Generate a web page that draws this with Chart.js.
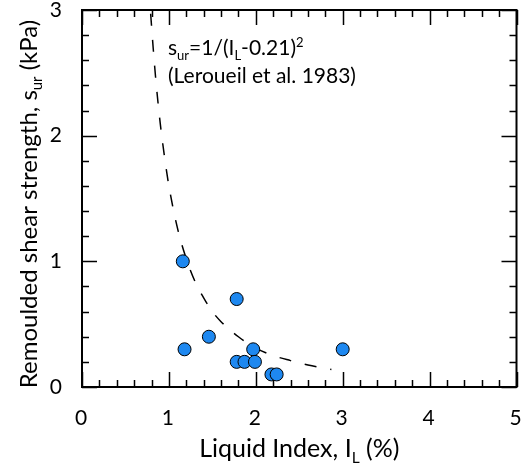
<!DOCTYPE html>
<html>
<head>
<meta charset="utf-8">
<script src="https://cdn.jsdelivr.net/npm/chart.js@4.4.0/dist/chart.umd.min.js"></script>
<style>
  html, body { margin: 0; padding: 0; background: #fff; }
</style>
</head>
<body>
<canvas id="myChart" width="524" height="467"></canvas>
<script>
// data
var liquidIndex = [1.16, 1.18, 1.46, 1.78, 1.78, 1.87, 1.97, 1.99, 2.18, 2.24, 3.0];
var strength    = [1.0, 0.3, 0.4, 0.7, 0.2, 0.2, 0.3, 0.2, 0.1, 0.1, 0.3];

// dashed Leroueil et al. (1983) curve
var curveX = [0.79, 0.82, 0.85, 0.9, 0.95, 1.0, 1.1, 1.2, 1.3, 1.4, 1.5, 1.6, 1.8, 2.0, 2.2, 2.4, 2.6, 2.87];
var curveY = [2.97, 2.69, 2.44, 2.10, 1.83, 1.60, 1.26, 1.02, 0.84, 0.71, 0.60, 0.52, 0.40, 0.31, 0.25, 0.21, 0.175, 0.14];

var xTicks = [0, 1, 2, 3, 4, 5];
var yTicks = [0, 1, 2, 3];

var FONT = "Lato, 'Open Sans', sans-serif";

function toPoints(xs, ys) {
    return xs.map(function (x, i) { return {x: x, y: ys[i]}; });
}

// draw a line of text with sub/superscript pieces
function richText(ctx, parts, x, y, size, align) {
    var w = 0;
    parts.forEach(function (p) {
        var s = p.sub || p.sup ? size * 0.62 : size;
        ctx.font = s + "px " + FONT;
        p.w = ctx.measureText(p.t).width;
        p.s = s;
        w += p.w;
    });
    var cx = align === "center" ? x - w / 2 : x;
    ctx.textAlign = "left";
    ctx.textBaseline = "alphabetic";
    parts.forEach(function (p) {
        ctx.font = p.s + "px " + FONT;
        var dy = p.sub ? size * 0.22 : (p.sup ? -size * 0.38 : 0);
        ctx.fillText(p.t, cx, y + dy);
        cx += p.w;
    });
}

var frame = {
    id: "frame",
    afterDraw: function (chart) {
        var ctx = chart.ctx, a = chart.chartArea;
        var xs = chart.scales.x, ys = chart.scales.y;
        ctx.save();
        ctx.strokeStyle = "#000";
        ctx.fillStyle = "#000";

        // minor and major ticks on all four sides, pointing inward
        ctx.lineWidth = 1.5;
        ctx.beginPath();
        for (var i = 0; i <= 25; i++) {
            var v = i * 0.2;
            var px = Math.round(xs.getPixelForValue(v)) + 0.5;
            var len = i % 5 === 0 ? 15 : 7;
            ctx.moveTo(px, a.bottom); ctx.lineTo(px, a.bottom - len);
            ctx.moveTo(px, a.top); ctx.lineTo(px, a.top + len);
        }
        for (var j = 0; j <= 15; j++) {
            var u = j * 0.2;
            var py = Math.round(ys.getPixelForValue(u)) + 0.5;
            var l2 = j % 5 === 0 ? 15 : 7;
            ctx.moveTo(a.left, py); ctx.lineTo(a.left + l2, py);
            ctx.moveTo(a.right, py); ctx.lineTo(a.right - l2, py);
        }
        ctx.stroke();

        ctx.lineWidth = 2;
        ctx.strokeRect(a.left, a.top, a.right - a.left, a.bottom - a.top);

        // tick labels
        ctx.font = "21px " + FONT;
        ctx.textAlign = "center";
        ctx.textBaseline = "alphabetic";
        xTicks.forEach(function (v) {
            ctx.fillText(String(v), xs.getPixelForValue(v) - 1, 425);
        });
        ctx.textAlign = "right";
        ctx.textBaseline = "middle";
        yTicks.forEach(function (v) {
            ctx.fillText(String(v), 62, ys.getPixelForValue(v));
        });

        // axis titles
        richText(ctx, [{t: "Liquid Index, I"}, {t: "L", sub: true}, {t: " (%)"}],
            (a.left + a.right) / 2, 457, 25, "center");
        ctx.save();
        ctx.translate(37, 204);
        ctx.rotate(-Math.PI / 2);
        richText(ctx, [{t: "Remoulded shear strength, s"}, {t: "ur", sub: true}, {t: " (kPa)"}],
            0, 0, 24, "center");
        ctx.restore();

        // equation note
        richText(ctx, [{t: "s"}, {t: "ur", sub: true}, {t: "=1/(I"}, {t: "L", sub: true},
            {t: "-0.21)"}, {t: "2", sup: true}], 168, 55, 21, "left");
        richText(ctx, [{t: "(Leroueil et al. 1983)"}], 168, 83, 21, "left");
        ctx.restore();
    }
};

new Chart("myChart", {
    type: "scatter",
    data: {
        datasets: [{
            data: toPoints(liquidIndex, strength),
            backgroundColor: "#1e88f0",
            borderColor: "#000",
            borderWidth: 1,
            pointRadius: 6.5
        }, {
            data: toPoints(curveX, curveY),
            showLine: true,
            borderColor: "#000",
            borderWidth: 1.5,
            borderDash: [12, 14],
            pointRadius: 0,
            tension: 0.4,
            cubicInterpolationMode: "monotone"
        }]
    },
    options: {
        responsive: false,
        animation: false,
        devicePixelRatio: 1,
        layout: {padding: {left: 0, top: 10, right: 3, bottom: 0}},
        plugins: {legend: {display: false}, tooltip: {enabled: false}},
        scales: {
            x: {
                min: 0, max: 5,
                afterBuildTicks: function (s) { s.ticks = xTicks.map(function (v) { return {value: v}; }); },
                afterFit: function (s) { s.height = 80; },
                grid: {display: false, drawTicks: false},
                border: {display: false},
                ticks: {display: false}
            },
            y: {
                min: 0, max: 3,
                afterBuildTicks: function (s) { s.ticks = yTicks.map(function (v) { return {value: v}; }); },
                afterFit: function (s) { s.width = 82; },
                grid: {display: false, drawTicks: false},
                border: {display: false},
                ticks: {display: false}
            }
        }
    },
    plugins: [frame]
});
</script>
</body>
</html>
